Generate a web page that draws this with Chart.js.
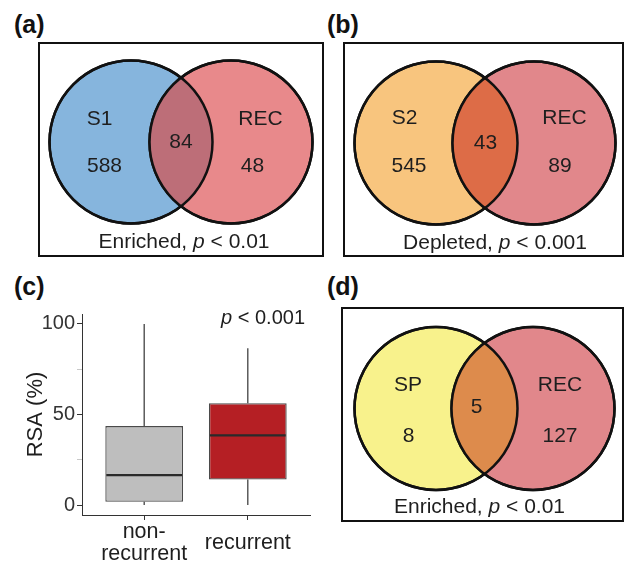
<!DOCTYPE html>
<html><head><meta charset="utf-8">
<script src="https://cdn.jsdelivr.net/npm/chart.js@4.4.0/dist/chart.umd.min.js"></script>
<style>
html,body{margin:0;padding:0;background:#fff;}
body{width:625px;height:563px;position:relative;overflow:hidden;font-family:"Liberation Sans",Arial,sans-serif;}
.lbl{position:absolute;font-weight:bold;font-size:25px;line-height:25px;color:#111;}
.box{position:absolute;border:2px solid #111;box-sizing:border-box;}
canvas{position:absolute;}
</style></head><body>
<div class="lbl" style="left:14px;top:12px">(a)</div>
<div class="lbl" style="left:327px;top:12px">(b)</div>
<div class="lbl" style="left:14px;top:274px">(c)</div>
<div class="lbl" style="left:327px;top:274px">(d)</div>
<div class="box" style="left:38px;top:42px;width:286px;height:215px"></div>
<div class="box" style="left:343px;top:42px;width:281px;height:215px"></div>
<div class="box" style="left:341px;top:307px;width:283px;height:215px"></div>
<canvas id="va" width="282" height="211" style="left:40px;top:44px"></canvas>
<canvas id="vb" width="277" height="211" style="left:345px;top:44px"></canvas>
<canvas id="vd" width="279" height="211" style="left:343px;top:309px"></canvas>
<canvas id="bc" width="320" height="263" style="left:0px;top:300px"></canvas>
<script>
// ---- data ----
const vennSets = [['S1','REC'],['S2','REC'],['SP','REC']];
const vennCounts = [[588,84,48],[545,43,89],[8,5,127]]; // left only, overlap, right only
const vennTests = ['Enriched','Depleted','Enriched'];
const vennPvals = ['< 0.01','< 0.001','< 0.01'];

const boxCategories = ['non-recurrent','recurrent'];
const boxTickLabels = [['non-','recurrent'],'recurrent'];
const boxMin = [0, 0];
const boxQ1 = [1.8, 14.1];
const boxMedian = [16.5, 38.5];
const boxQ3 = [43.6, 56.2];
const boxMax = [100, 86.6];
const rsaTicks = [0, 25, 50, 75, 100];
const rsaTickLabels = ['0', '', '50', '', '100'];
const boxPval = '< 0.001';

// ---- styling / layout ----
const FONT = '"Liberation Sans", Arial, sans-serif';
Chart.defaults.font.family = FONT;
const TXT = '#1e1e1e';

const vennLayouts = [
  {id:'va', xmin:-1.41, xmax:1.41, ymin:-1.13, ymax:0.98, half:0.50, r:0.815,
   colors:['#86b5dd','#e8898b','#bd6e78'],
   pos:{lname:[-0.815,0.225], lcount:[-0.765,-0.24], ov:[0,0], rname:[0.795,0.225], rcount:[0.715,-0.24], cap:[0.03,-1.005]}},
  {id:'vb', xmin:-1.40, xmax:1.37, ymin:-1.12, ymax:0.99, half:0.49, r:0.815,
   colors:['#f8c57e','#e1878b','#dd6c47'],
   pos:{lname:[-0.805,0.245], lcount:[-0.76,-0.235], ov:[0.005,0], rname:[0.795,0.245], rcount:[0.75,-0.235], cap:[0.10,-1.0]}},
  {id:'vd', xmin:-1.415, xmax:1.375, ymin:-1.115, ymax:0.995, half:0.485, r:0.815,
   colors:['#f8f28c','#e1878b','#dd8b4c'],
   pos:{lname:[-0.765,0.235], lcount:[-0.76,-0.28], ov:[-0.08,0.01], rname:[0.755,0.235], rcount:[0.755,-0.28], cap:[-0.05,-0.99]}}
];

function drawCaption(ctx, parts, cx, cy) {
  let total = 0;
  parts.forEach(p => { ctx.font = p.font; p.w = ctx.measureText(p.t).width; total += p.w; });
  let x = cx - total / 2;
  ctx.textAlign = 'left'; ctx.textBaseline = 'middle';
  parts.forEach(p => { ctx.font = p.font; ctx.fillText(p.t, x, cy); x += p.w; });
}

const vennPlugin = {
  id: 'venn',
  afterDatasetsDraw(chart, args, opts) {
    const L = opts.layout, i = opts.index;
    const ctx = chart.ctx;
    const meta = chart.getDatasetMeta(0);
    const [p0, p1] = meta.data;
    const r0 = p0.options.radius, r1 = p1.options.radius;
    ctx.save();
    ctx.beginPath(); ctx.arc(p0.x, p0.y, r0, 0, Math.PI * 2); ctx.clip();
    ctx.beginPath(); ctx.arc(p1.x, p1.y, r1, 0, Math.PI * 2);
    ctx.fillStyle = L.colors[2]; ctx.fill();
    ctx.restore();
    ctx.save();
    ctx.lineWidth = 2.5; ctx.strokeStyle = '#111';
    ctx.beginPath(); ctx.arc(p0.x, p0.y, r0, 0, Math.PI * 2); ctx.stroke();
    ctx.beginPath(); ctx.arc(p1.x, p1.y, r1, 0, Math.PI * 2); ctx.stroke();
    const xs = chart.scales.x, ys = chart.scales.y;
    const px = p => xs.getPixelForValue(p[0]), py = p => ys.getPixelForValue(p[1]);
    ctx.fillStyle = TXT; ctx.font = '21px ' + FONT;
    ctx.textAlign = 'center'; ctx.textBaseline = 'middle';
    const P = L.pos;
    ctx.fillText(vennSets[i][0], px(P.lname), py(P.lname));
    ctx.fillText(String(vennCounts[i][0]), px(P.lcount), py(P.lcount));
    ctx.fillText(String(vennCounts[i][1]), px(P.ov), py(P.ov));
    ctx.fillText(vennSets[i][1], px(P.rname), py(P.rname));
    ctx.fillText(String(vennCounts[i][2]), px(P.rcount), py(P.rcount));
    drawCaption(ctx, [
      {t: vennTests[i] + ', ', font: '21px ' + FONT},
      {t: 'p', font: 'italic 21px ' + FONT},
      {t: ' ' + vennPvals[i], font: '21px ' + FONT}
    ], px(P.cap), py(P.cap));
    ctx.restore();
  }
};

vennLayouts.forEach((L, i) => {
  new Chart(document.getElementById(L.id), {
    type: 'scatter',
    data: { datasets: [{
      data: [{x: -L.half, y: 0}, {x: L.half, y: 0}],
      pointBackgroundColor: [L.colors[0], L.colors[1]],
      pointBorderColor: '#111', pointBorderWidth: 2.5,
      pointRadius: (c) => { const s = c.chart.scales.x; return s.getPixelForValue(L.r) - s.getPixelForValue(0); },
      showLine: false,
      clip: false
    }]},
    options: {
      responsive: false, animation: false, events: [],
      layout: { padding: 0 },
      plugins: { legend: {display: false}, tooltip: {enabled: false}, venn: {layout: L, index: i} },
      scales: {
        x: { type: 'linear', display: false, min: L.xmin, max: L.xmax },
        y: { type: 'linear', display: false, min: L.ymin, max: L.ymax }
      }
    },
    plugins: [vennPlugin]
  });
});

// ---- box plot ----
const boxPlugin = {
  id: 'boxextras',
  afterDatasetsDraw(chart) {
    const ctx = chart.ctx, xs = chart.scales.x, ys = chart.scales.y;
    const meta = chart.getDatasetMeta(0);
    ctx.save();
    boxCategories.forEach((c, i) => {
      const bar = meta.data[i];
      const half = bar.width / 2;
      const cx = xs.getPixelForValue(i + 1);
      ctx.strokeStyle = '#333'; ctx.lineWidth = 1.2;
      ctx.beginPath();
      ctx.moveTo(cx, ys.getPixelForValue(boxQ3[i])); ctx.lineTo(cx, ys.getPixelForValue(boxMax[i]));
      ctx.moveTo(cx, ys.getPixelForValue(boxQ1[i])); ctx.lineTo(cx, ys.getPixelForValue(boxMin[i]));
      ctx.stroke();
      ctx.strokeStyle = '#2a2a2a'; ctx.lineWidth = 2.2;
      ctx.beginPath();
      const my = ys.getPixelForValue(boxMedian[i]);
      ctx.moveTo(cx - half + 1, my); ctx.lineTo(cx + half - 1, my);
      ctx.stroke();
    });
    const a = chart.chartArea;
    ctx.fillStyle = TXT;
    const parts = [{t: 'p', font: 'italic 20px ' + FONT}, {t: ' ' + boxPval, font: '20px ' + FONT}];
    let total = 0;
    parts.forEach(p => { ctx.font = p.font; p.w = ctx.measureText(p.t).width; total += p.w; });
    let x = a.right - 5 - total;
    ctx.textAlign = 'left'; ctx.textBaseline = 'middle';
    parts.forEach(p => { ctx.font = p.font; ctx.fillText(p.t, x, a.top + 4); x += p.w; });
    ctx.restore();
  }
};

new Chart(document.getElementById('bc'), {
  type: 'bar',
  data: { datasets: [{
    data: boxCategories.map((c, i) => ({x: i + 1, y: [boxQ1[i], boxQ3[i]]})),
    backgroundColor: ['#bebebe', '#b51f24'],
    borderColor: '#4a4a4a', borderWidth: 1.3, borderSkipped: false,
    barPercentage: 0.75, categoryPercentage: 1, grouped: false
  }]},
  options: {
    responsive: false, animation: false, events: [],
    layout: { padding: {left: 0, right: 10, top: 13, bottom: 0} },
    plugins: { legend: {display: false}, tooltip: {enabled: false} },
    scales: {
      x: {
        type: 'linear', min: 0.4, max: 2.6, offset: false,
        afterBuildTicks: s => { s.ticks = boxCategories.map((c, i) => ({value: i + 1})); },
        afterFit: s => { s.height = 48; },
        ticks: { callback: (v, i) => boxTickLabels[i], font: {size: 21.5, lineHeight: 1.02}, color: TXT,
                 padding: 12, maxRotation: 0, autoSkip: false, crossAlign: 'center' },
        grid: { offset: false, drawOnChartArea: false, tickLength: 5, tickColor: '#333', tickWidth: 1 },
        border: { color: '#333', width: 1 }
      },
      y: {
        min: -5.5, max: 105.5,
        afterBuildTicks: s => { s.ticks = rsaTicks.map(v => ({value: v})); },
        afterFit: s => { s.width = 82; },
        ticks: { callback: (v, i) => rsaTickLabels[i], font: {size: 20}, color: '#333', padding: 2, autoSkip: false },
        grid: { drawOnChartArea: false, tickLength: 5,
                tickColor: c => (c.tick && c.tick.value % 50 === 0) ? '#333' : '#c8c8c8' },
        border: { color: '#333', width: 1 },
        title: { display: true, text: 'RSA (%)', font: {size: 22}, color: TXT, padding: {top: 23, bottom: 0} }
      }
    }
  },
  plugins: [boxPlugin]
});
</script>
</body></html>
